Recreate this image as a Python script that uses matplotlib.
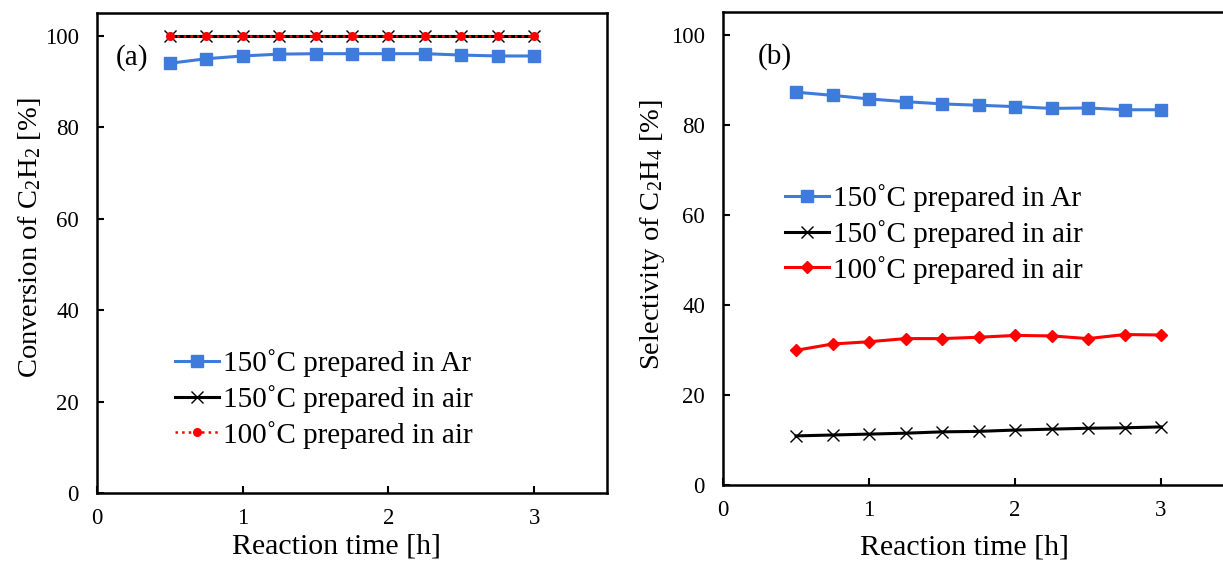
import matplotlib
matplotlib.use("Agg")
import matplotlib.pyplot as plt

plt.rcParams['font.family'] = ['Liberation Serif', 'DejaVu Serif']
plt.rcParams['mathtext.default'] = 'regular'

time_h = [0.5, 0.75, 1.0, 1.25, 1.5, 1.75, 2.0, 2.25, 2.5, 2.75, 3.0]

conv_150_ar = [94.0, 95.0, 95.6, 96.0, 96.1, 96.1, 96.1, 96.1, 95.8, 95.6, 95.6]
conv_150_air = [100.0] * 11
conv_100_air = [100.0] * 11

sel_150_ar = [87.2, 86.5, 85.7, 85.1, 84.6, 84.3, 84.0, 83.6, 83.7, 83.3, 83.3]
sel_150_air = [10.9, 11.1, 11.3, 11.5, 11.8, 11.9, 12.2, 12.4, 12.6, 12.7, 12.9]
sel_100_air = [29.9, 31.3, 31.8, 32.5, 32.5, 32.8, 33.2, 33.1, 32.5, 33.4, 33.3]

labels = ['150˚C prepared in Ar', '150˚C prepared in air', '100˚C prepared in air']
xticks = [0, 1, 2, 3]
yticks = [0, 20, 40, 60, 80, 100]

blue = '#3F7BDB'
fig = plt.figure(figsize=(12.23, 5.61), dpi=100)
W, H = 1223, 561
ax1 = fig.add_axes([97 / W, 1 - 493 / H, 510 / W, 480 / H])
ax2 = fig.add_axes([723 / W, 1 - 485 / H, 511 / W, 473 / H])

# panel (a)
ax1.plot(time_h, conv_150_ar, color=blue, lw=2.2, marker='s', ms=8.5, label=labels[0])
ax1.plot(time_h, conv_150_air, color='black', lw=2.2, marker='x', ms=9, mew=1.0, label=labels[1])
ax1.plot(time_h, conv_100_air, color='red', lw=1.8, ls=':', marker='o', ms=5.5, label=labels[2])

# panel (b)
ax2.plot(time_h, sel_150_ar, color=blue, lw=2.2, marker='s', ms=8.5, label=labels[0])
ax2.plot(time_h, sel_150_air, color='black', lw=2.2, marker='x', ms=9, mew=1.0, label=labels[1])
ax2.plot(time_h, sel_100_air, color='red', lw=2.2, marker='D', ms=6.5, label=labels[2])

for ax in (ax1, ax2):
    ax.set_xlim(0, 3.5)
    ax.set_ylim(0, 105)
    ax.set_xticks(xticks)
    ax.set_yticks(yticks)
    ax.tick_params(direction='in', length=5, width=1.5, labelsize=16.5)
    ax.tick_params(axis='y', pad=13)
    ax.tick_params(axis='x', pad=11)
    for s in ax.spines.values():
        s.set_linewidth(1.8)
    ax.set_xlabel('Reaction time [h]', fontsize=21.5)

ax1.xaxis.set_label_coords((337 - 97) / 510, -0.084)
ax2.xaxis.set_label_coords((965 - 723) / 511, -0.105)
ax1.set_ylabel('Conversion of C$_2$H$_2$ [%]', fontsize=20.5)
ax2.set_ylabel('Selectivity of C$_2$H$_4$ [%]', fontsize=20.5)
ax1.yaxis.set_label_coords(-0.105, 0.531)
ax2.yaxis.set_label_coords(-0.11, 0.529)

ax1.text(0.069, 0.908, '(a)', transform=ax1.transAxes, fontsize=21, ha='center', va='center')
ax2.text(0.102, 0.905, '(b)', transform=ax2.transAxes, fontsize=21, ha='center', va='center')

leg_kw = dict(frameon=False, fontsize=21, handlelength=1.5, handletextpad=0.15,
              labelspacing=0.26, borderpad=0, borderaxespad=0, loc='center left')
ax1.legend(bbox_to_anchor=((175 - 97) / 510, (493 - 399) / 480), **leg_kw)
ax2.legend(bbox_to_anchor=((785 - 723) / 511, (485 - 234) / 473), **leg_kw)

fig.savefig('out.png', dpi=100)
